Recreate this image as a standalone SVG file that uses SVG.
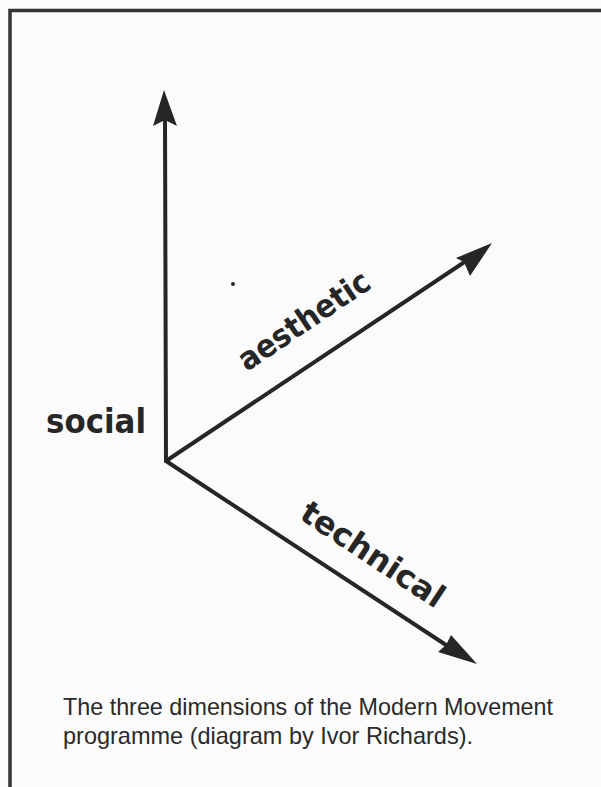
<svg xmlns="http://www.w3.org/2000/svg" width="601" height="787" viewBox="0 0 601 787">
<defs>
<style>
.ax{stroke:#262626;stroke-width:4;fill:none;stroke-linecap:round}
.head{fill:#262626}
.lbl{font-family:"DejaVu Sans","Liberation Sans",sans-serif;font-weight:bold;fill:#262626}
.cap{font-family:"Liberation Sans",Arial,sans-serif;fill:#2a2a2a;font-size:24px}
</style>
</defs>
<rect x="0" y="0" width="601" height="787" fill="#fbfbfb"/>
<path d="M10,787 V10.5 H601" fill="none" stroke="#333" stroke-width="3.5"/>
<g id="connectors">
<line class="ax" x1="166" y1="461" x2="165" y2="118"/>
<polygon class="head" points="164,90 177,126 165,120 153,126"/>
<line class="ax" x1="166" y1="461" x2="463" y2="263"/>
<polygon class="head" points="492,243 470,276 464,262 456,258"/>
<line class="ax" x1="166" y1="461" x2="446" y2="645"/>
<polygon class="head" points="477,664 438,652 446,645 451,635"/>
</g>
<g id="social"><text class="lbl" x="46" y="433" font-size="33" textLength="100" lengthAdjust="spacingAndGlyphs">social</text></g>
<g id="aesthetic"><text class="lbl" font-size="32" transform="translate(247,372) rotate(-34)" textLength="152" lengthAdjust="spacingAndGlyphs">aesthetic</text></g>
<g id="technical"><text class="lbl" font-size="32" transform="translate(298,518) rotate(33.5)" textLength="165" lengthAdjust="spacingAndGlyphs">technical</text></g>
<circle cx="233" cy="284" r="2" fill="#262626"/>
<g id="caption">
<text class="cap" x="63" y="715" textLength="490" lengthAdjust="spacingAndGlyphs">The three dimensions of the Modern Movement</text>
<text class="cap" x="63" y="744" textLength="410" lengthAdjust="spacingAndGlyphs">programme (diagram by Ivor Richards).</text>
</g>
</svg>
